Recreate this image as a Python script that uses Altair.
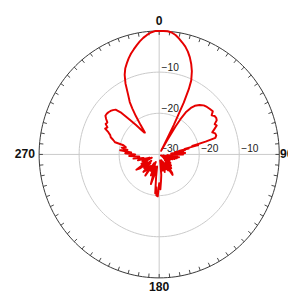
import altair as alt
import pandas as pd
import numpy as np

# ---- pattern data (angle clockwise from top, gain in dB) ----
angles = [0, 2, 4, 6, 8, 10, 12, 14, 16, 18, 20, 22, 24, 25, 26, 27, 28, 29, 30, 31,
          32, 33, 35, 37, 40, 43, 46, 49, 52, 54, 56, 58, 60, 62, 64, 66, 68, 70, 72, 74,
          75, 76, 77, 78, 79, 80, 81, 82, 84, 86, 87, 88, 90, 92, 94, 96, 98, 100, 102, 104,
          106, 108, 110, 112, 115, 118, 120, 123, 126, 129, 132, 135, 138, 141, 144, 146, 148, 150, 153, 156,
          159, 162, 165, 168, 171, 174, 176, 178, 180, 182, 184, 185, 186, 188, 190, 193, 196, 199, 202, 205,
          208, 211, 214, 217, 220, 223, 226, 229, 232, 235, 237, 240, 243, 246, 249, 252, 255, 258, 261, 264,
          267, 270, 272, 274, 276, 278, 280, 282, 284, 285, 287, 289, 291, 293, 295, 297, 299, 301, 303, 305,
          307, 309, 311, 313, 315, 317, 319, 321, 323, 325, 326, 327, 328, 329, 330, 332, 334, 336, 338, 340,
          342, 344, 346, 348, 350, 352, 354, 356, 358]
gain_db = [0, 0, 0, -0.2, -0.7, -1.4, -2.2, -3.0, -4.0, -5.2, -6.6, -8.2, -10.3, -12.5, -16, -22, -27, -29, -26, -22,
           -19.5, -17.8, -16.2, -15.2, -14.3, -13.7, -13.4, -13.2, -13.0, -13.8, -13.3, -13.2, -13.4, -14.3, -14.0, -14.9, -15.7, -15.1, -15.0, -15.4,
           -18, -21.5, -20, -23.5, -22.5, -25, -23.5, -26, -24, -27, -23.5, -25.5, -24, -27, -25.5, -28, -25, -27.5, -25.5, -29,
           -26, -28.5, -26.5, -29, -27, -29.5, -27, -29, -26.5, -28.5, -26, -28, -25.5, -27.5, -24.5, -24, -27, -25.5, -28, -26,
           -28.5, -25.5, -28, -26, -28.5, -25, -23.5, -21.5, -23, -19.8, -20, -22, -20.5, -24.5, -27, -25, -22.5, -27, -24.5, -28,
           -25.5, -27.5, -23.8, -26.5, -25, -24.2, -27, -25, -27.5, -24, -23.2, -26.5, -25, -28, -25.5, -27.5, -24.5, -26, -23.5, -25,
           -22.5, -24, -21.5, -23, -20.2, -22, -20.5, -21.5, -20.8, -18.6, -18, -17.2, -16.9, -16.2, -15.1, -15.5, -14.7, -14.9, -14.2, -13.6,
           -13.6, -13.7, -13.9, -14.2, -14.6, -16.2, -18.8, -20.8, -22.5, -23.5, -23.6, -21.5, -19, -17, -15.3, -13.4, -10.8, -8.8, -7.4, -6.4,
           -5.4, -4.5, -3.7, -2.9, -2.1, -1.4, -0.8, -0.3, 0]
assert len(angles) == len(gain_db)

ring_db = [-20, -10]
outer_db = [0]
vert_label_db = [-10, -20]
horiz_label_db = [-30, -20, -10]
angle_label_text = ["0", "90", "180", "270"]
angle_label_deg = [0, 90, 180, 270]
tick_deg = list(range(0, 360, 5))

FLOOR = -30.0
RMAX = 30.0

# ---- geometry of the drawing area ----
W = H = 288
KX, KY = 4.117, 4.233
CX, CY = 155.5, 146.5
xs = alt.Scale(domain=[-CX / KX, (W - CX) / KX], nice=False, zero=False)
ys = alt.Scale(domain=[-(H - CY) / KY, CY / KY], nice=False, zero=False)

def XY(fx="px", fy="py"):
    return dict(x=alt.X(f"{fx}:Q", scale=xs, axis=None),
                y=alt.Y(f"{fy}:Q", scale=ys, axis=None))

def polar(ch, r_expr):
    return (ch.transform_calculate(r=r_expr)
              .transform_calculate(px="datum.r*sin(datum.deg*PI/180)")
              .transform_calculate(py="datum.r*cos(datum.deg*PI/180)"))

# pattern
pat = pd.DataFrame({"deg": angles, "db": gain_db})
pat = pd.concat([pat, pd.DataFrame({"deg": [360], "db": [gain_db[0]]})], ignore_index=True)
pat["i"] = np.arange(len(pat))

pattern = polar(alt.Chart(pat), "max(datum.db + 30, 0)").mark_line(
    color="#e60000", strokeWidth=2, strokeJoin="round").encode(order="i:Q", **XY())

# rings
circ_deg = list(range(0, 361, 2))
rings_df = pd.DataFrame([(d, a) for d in ring_db for a in circ_deg], columns=["db", "deg"])
outer_df = pd.DataFrame([(d, a) for d in outer_db for a in circ_deg], columns=["db", "deg"])

rings = polar(alt.Chart(rings_df), "datum.db + 30").mark_line(
    color="#c8c8c8", strokeWidth=1).encode(detail="db:N", order="deg:Q", **XY())
outer = polar(alt.Chart(outer_df), "datum.db + 30").mark_line(
    color="#333333", strokeWidth=1).encode(detail="db:N", order="deg:Q", **XY())

# spokes (cross lines)
spokes = (alt.Chart(pd.DataFrame({"deg": [0, 90]}))
          .transform_calculate(px="30*sin(datum.deg*PI/180)", py="30*cos(datum.deg*PI/180)")
          .transform_calculate(px2="-datum.px", py2="-datum.py")
          .mark_rule(color="#c8c8c8", strokeWidth=1)
          .encode(x2="px2:Q", y2="py2:Q", **XY()))

# ticks
ticks = (alt.Chart(pd.DataFrame({"deg": tick_deg}))
         .transform_calculate(px="30*sin(datum.deg*PI/180)", py="30*cos(datum.deg*PI/180)")
         .transform_calculate(px2="29.05*sin(datum.deg*PI/180)", py2="29.05*cos(datum.deg*PI/180)")
         .mark_rule(color="#444444", strokeWidth=1)
         .encode(x2="px2:Q", y2="py2:Q", **XY()))

# angle labels
al = pd.DataFrame({"deg": angle_label_deg, "label": angle_label_text})
def angle_layer(filt, r, align):
    return (polar(alt.Chart(al).transform_filter(filt), str(r))
            .mark_text(font="Liberation Sans", fontSize=12.5, fontWeight="bold",
                       color="#111111", align=align, baseline="middle")
            .encode(text="label:N", **XY()))

lab_tb = angle_layer("datum.deg == 0 || datum.deg == 180", 32.3, "center")
lab_l = angle_layer("datum.deg == 270", 31.0, "right")
lab_r = angle_layer("datum.deg == 90", 30.2, "left")

# radial labels
vl = pd.DataFrame({"db": vert_label_db, "deg": 0})
hl = pd.DataFrame({"db": horiz_label_db, "deg": 90})
vlab = (polar(alt.Chart(vl), "datum.db + 30")
        .transform_calculate(label="format(datum.db, 'd')")
        .mark_text(font="Liberation Sans", fontSize=10.5, color="#222222",
                   align="left", baseline="alphabetic", dx=2.5, dy=-1)
        .encode(text="label:N", **XY()))
hlab = (polar(alt.Chart(hl), "datum.db + 30")
        .transform_calculate(label="format(datum.db, 'd')")
        .mark_text(font="Liberation Sans", fontSize=10.5, color="#222222",
                   align="left", baseline="alphabetic", dx=2, dy=-3)
        .encode(text="label:N", **XY()))

chart = alt.layer(rings, spokes, outer, ticks, vlab, hlab, pattern,
                  lab_tb, lab_l, lab_r).properties(
    width=W, height=H, padding=0,
    autosize=alt.AutoSizeParams(type="none"),
    background="white",
).configure_view(strokeWidth=0)

chart.save("out.html", embed_options={"renderer": "svg", "actions": False})
